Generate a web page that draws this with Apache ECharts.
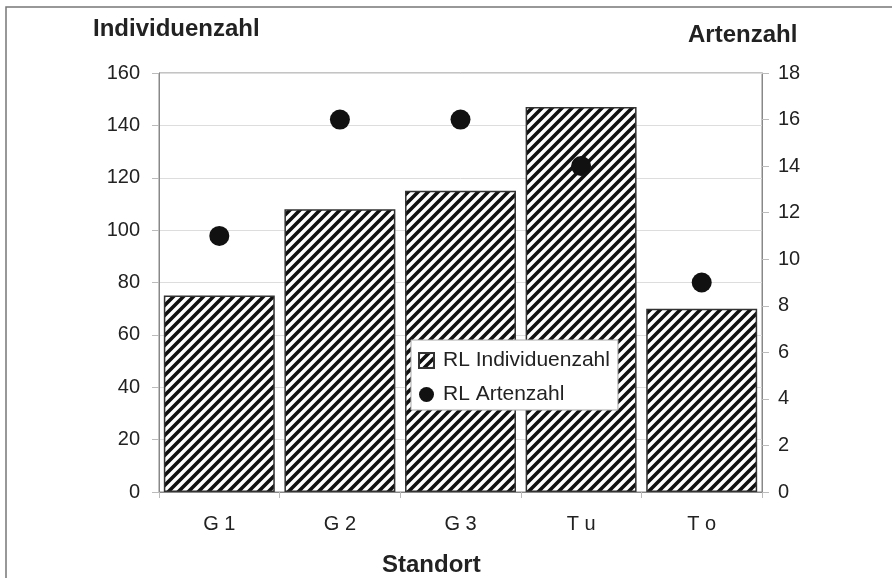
<!DOCTYPE html>
<html><head><meta charset="utf-8">
<script src="https://cdn.jsdelivr.net/npm/echarts@6/dist/echarts.min.js"></script>
<style>html,body{margin:0;padding:0;background:#fff}#c{width:892px;height:578px}</style>
</head><body><div id="c"></div>
<script>
const categories = ['G 1', 'G 2', 'G 3', 'T u', 'T o'];
const individuenzahl = [75, 108, 115, 147, 70];
const artenzahl = [11, 16, 16, 14, 9];
const leftTicks = {min: 0, max: 160, interval: 20};
const rightTicks = {min: 0, max: 18, interval: 2};

function hatch() {
  const s = 10;
  const c = document.createElement('canvas');
  c.width = s; c.height = s;
  const g = c.getContext('2d');
  g.fillStyle = '#fff'; g.fillRect(0, 0, s, s);
  g.strokeStyle = '#111'; g.lineWidth = 3.6; g.lineCap = 'butt';
  g.beginPath();
  // lines x + y = 0, s, 2s  ( "/" direction )
  g.moveTo(-s, s); g.lineTo(s, -s);
  g.moveTo(-s, 2 * s); g.lineTo(2 * s, -s);
  g.moveTo(0, 2 * s); g.lineTo(2 * s, 0);
  g.stroke();
  return {image: c, repeat: 'repeat'};
}
const pat = hatch();
const FONT = 'Liberation Sans';
const chart = echarts.init(document.getElementById('c'), null, {renderer: 'canvas'});
chart.setOption({
  animation: false,
  textStyle: {fontFamily: FONT},
  grid: {left: 159, right: 130, top: 73, bottom: 86, show: true, borderColor: '#888', borderWidth: 1},
  legend: {
    orient: 'vertical', left: 411, top: 340,
    backgroundColor: '#fff', borderColor: '#aaa', borderWidth: 1,
    padding: [10, 8, 5, 7], itemGap: 13, itemWidth: 15, itemHeight: 15,
    textStyle: {fontSize: 21, color: '#222', fontFamily: FONT, padding: [0, 0, 0, 4]},
    data: [{name: 'RL Individuenzahl', icon: 'rect'}, {name: 'RL Artenzahl', icon: 'circle'}]
  },
  xAxis: {
    type: 'category', data: categories,
    axisLine: {lineStyle: {color: '#888'}},
    axisTick: {show: true, length: 6, lineStyle: {color: '#bbb'}},
    axisLabel: {fontSize: 20, color: '#222', margin: 22}
  },
  yAxis: [
    {type: 'value', min: leftTicks.min, max: leftTicks.max, interval: leftTicks.interval,
     axisLine: {show: true, lineStyle: {color: '#888'}},
     axisTick: {show: true, length: 7, lineStyle: {color: '#bbb'}},
     axisLabel: {fontSize: 20, color: '#222', margin: 19},
     splitLine: {lineStyle: {color: '#ddd'}}},
    {type: 'value', min: rightTicks.min, max: rightTicks.max, interval: rightTicks.interval,
     axisLine: {show: true, lineStyle: {color: '#888'}},
     axisTick: {show: true, length: 7, lineStyle: {color: '#bbb'}},
     axisLabel: {fontSize: 20, color: '#222', margin: 16},
     splitLine: {show: false}}
  ],
  series: [
    {name: 'RL Individuenzahl', type: 'bar', data: individuenzahl, yAxisIndex: 0,
     barCategoryGap: '8%',
     itemStyle: {color: pat, borderColor: '#333', borderWidth: 1.5}},
    {name: 'RL Artenzahl', type: 'scatter', data: artenzahl, yAxisIndex: 1,
     symbol: 'circle', symbolSize: 20, itemStyle: {color: '#111', opacity: 1}}
  ],
  graphic: [
    {type: 'polyline', shape: {points: [[6, 578], [6, 7], [892, 7]]}, style: {stroke: '#777', lineWidth: 1.5, fill: null}},
    {type: 'text', left: 93, top: 17, style: {text: 'Individuenzahl', font: 'bold 24px "Liberation Sans"', fill: '#222'}},
    {type: 'text', left: 688, top: 23, style: {text: 'Artenzahl', font: 'bold 24px "Liberation Sans"', fill: '#222'}},
    {type: 'text', left: 382, top: 553, style: {text: 'Standort', font: 'bold 24px "Liberation Sans"', fill: '#222'}}
  ]
});
</script></body></html>
